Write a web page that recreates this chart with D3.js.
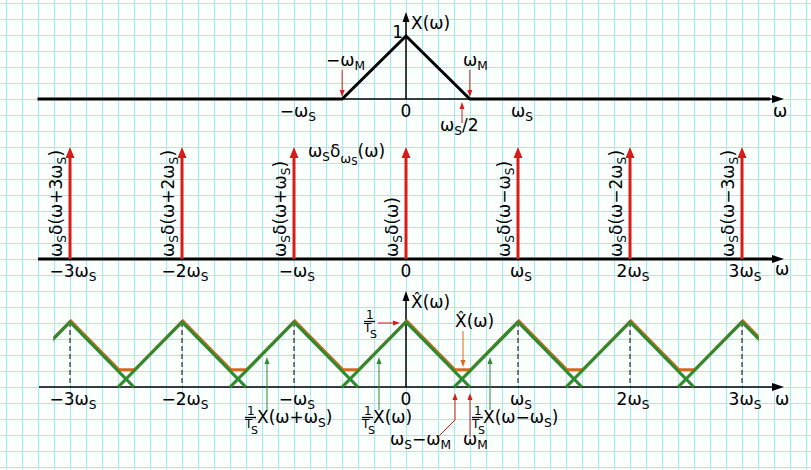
<!DOCTYPE html>
<html>
<head>
<meta charset="utf-8">
<script src="https://cdn.jsdelivr.net/npm/d3@7"></script>
<style>
body { margin: 0; background: #fbfffe; }
svg { display: block; }
text { font-family: "DejaVu Sans", Verdana, sans-serif; fill: #000; }
</style>
</head>
<body>
<div id="chart"></div>
<script>
const WIDTH = 811, HEIGHT = 470;
const GRID_COLOR = "#a3ecee";
const RED = "#d81c1c";
const GREEN = "#2f8a2f";
const ORANGE = "#d86a1c";

// positions are in multiples of omega_s
const SHIFTS = [-3, -2, -1, 0, 1, 2, 3];
const TICK_LABELS = ["−3ω_S", "−2ω_S", "−ω_S", "0", "ω_S", "2ω_S", "3ω_S"];
const TOP_TICKS = [-1, 0, 1];
const TOP_TICK_LABELS = ["−ω_S", "0", "ω_S"];
const IMPULSE_LABELS = ["ω_Sδ(ω+3ω_S)", "ω_Sδ(ω+2ω_S)", "ω_Sδ(ω+ω_S)", "ω_Sδ(ω)",
	"ω_Sδ(ω−ω_S)", "ω_Sδ(ω−2ω_S)", "ω_Sδ(ω−3ω_S)"];

// X(w) : triangle of height 1, edges at +-omega_M
const OMEGA_M = 0.57;
const X_W = [-OMEGA_M, 0, OMEGA_M];
const X_V = [0, 1, 0];
const TOP_SPAN = [-3.29, 3.25];   // drawn extent of X(w) in top panel
const BOT_SPAN = [-3.15, 3.15];   // drawn extent of sampled spectrum
const IMPULSE_H = 1;

const x = d3.scaleLinear().domain([-3, 3]).range([70, 742]);
const yTop = d3.scaleLinear().domain([0, 1]).range([99, 36]);
const yMid = d3.scaleLinear().domain([0, 1]).range([259, 147]);
const yBot = d3.scaleLinear().domain([0, 1]).range([387, 322]);

const svg = d3.select("#chart").append("svg")
	.attr("width", WIDTH)
	.attr("height", HEIGHT);

// grid paper
const grid = svg.append("g").attr("stroke", GRID_COLOR).attr("stroke-width", 1);
d3.range(6.5, WIDTH, 16).forEach(function (gx) {
	grid.append("line").attr("x1", gx).attr("x2", gx).attr("y1", 0).attr("y2", HEIGHT);
});
d3.range(3.5, HEIGHT, 16).forEach(function (gy) {
	grid.append("line").attr("y1", gy).attr("y2", gy).attr("x1", 0).attr("x2", WIDTH);
});

// text with "_X" subscripts
function rich(g, str, px, py, size, anchor) {
	const t = g.append("text").attr("x", px).attr("y", py)
		.attr("font-size", size).attr("text-anchor", anchor || "start");
	const parts = str.split(/(_.)/).filter(function (s) { return s; });
	let sub = false;
	parts.forEach(function (p) {
		if (p[0] === "_") {
			t.append("tspan").attr("font-size", size * 0.72)
				.attr("dy", sub ? 0 : size * 0.24).text(p[1]);
			sub = true;
		} else {
			t.append("tspan").attr("dy", sub ? -size * 0.24 : 0).text(p);
			sub = false;
		}
	});
	return t;
}

function arrow(g, x1, y1, x2, y2, color, w, hl, hw) {
	const dx = x2 - x1, dy = y2 - y1, L = Math.hypot(dx, dy);
	const ux = dx / L, uy = dy / L;
	const bx = x2 - ux * hl, by = y2 - uy * hl;
	g.append("line")
		.attr("x1", x1).attr("y1", y1)
		.attr("x2", bx + ux).attr("y2", by + uy)
		.attr("stroke", color).attr("stroke-width", w);
	g.append("path")
		.attr("d", "M" + x2 + "," + y2 +
			"L" + (bx - uy * hw / 2) + "," + (by + ux * hw / 2) +
			"L" + (bx + uy * hw / 2) + "," + (by - ux * hw / 2) + "Z")
		.attr("fill", color);
}

// 1 over T_S
function frac(g, fx, yb) {
	g.append("text").attr("x", fx + 2).attr("y", yb).attr("font-size", 12).text("1");
	g.append("line").attr("x1", fx).attr("x2", fx + 11)
		.attr("y1", yb + 2.5).attr("y2", yb + 2.5)
		.attr("stroke", "#000").attr("stroke-width", 1.3);
	g.append("text").attr("x", fx).attr("y", yb + 13).attr("font-size", 12).text("T");
	g.append("text").attr("x", fx + 6).attr("y", yb + 19).attr("font-size", 11).text("S");
}

function tri(k) {
	return X_W.map(function (w, i) { return [w + k, X_V[i]]; });
}

// ---------- top panel: X(w) ----------
const topG = svg.append("g");
arrow(topG, 38, yTop(0), 784, yTop(0), "#000", 1.5, 12, 8);
arrow(topG, x(0), yTop(0), x(0), 12, "#000", 1.5, 10, 7);

const topPts = [[TOP_SPAN[0], 0]].concat(tri(0), [[TOP_SPAN[1], 0]]);
topG.append("path")
	.attr("d", d3.line().x(d => x(d[0])).y(d => yTop(d[1]))(topPts))
	.attr("fill", "none").attr("stroke", "#000").attr("stroke-width", 3)
	.attr("stroke-linejoin", "miter");

TOP_TICKS.forEach(function (k, i) {
	rich(topG, TOP_TICK_LABELS[i], x(k) + (k === 0 ? 0 : 4), 117, 17, "middle");
});
rich(topG, "ω", 773, 117, 17);
topG.append("text").attr("x", x(0) - 3).attr("y", 38).attr("font-size", 17)
	.attr("text-anchor", "end").text("1");
rich(topG, "X(ω)", x(0) + 5, 29, 17);
rich(topG, "−ω_M", 326, 66, 17);
rich(topG, "ω_M", 463, 66, 17);
arrow(topG, x(-OMEGA_M), 70, x(-OMEGA_M), 97, RED, 1, 7, 5);
arrow(topG, x(OMEGA_M), 70, x(OMEGA_M), 97, RED, 1, 7, 5);
arrow(topG, x(0.5), 123, x(0.5), 102, RED, 1, 7, 5);
rich(topG, "ω_S/2", 440, 131, 17);

// ---------- middle panel: impulse train ----------
const mid = svg.append("g");
arrow(mid, 38, yMid(0), 784, yMid(0), "#000", 3, 12, 8);
SHIFTS.forEach(function (k, i) {
	arrow(mid, x(k), yMid(0), x(k), yMid(IMPULSE_H), RED, 3, 11, 9);
	rich(mid, IMPULSE_LABELS[i], 0, 0, 17)
		.attr("transform", "translate(" + (x(k) - 8) + ",257) rotate(-90)");
	rich(mid, TICK_LABELS[i], x(k) + (k === 0 ? 0 : 3), 277, 17, "middle");
});
rich(mid, "ω", 775, 275, 17);
// omega_s delta_{omega_s}(omega)
const dl = mid.append("text").attr("x", 308).attr("y", 157).attr("font-size", 17);
dl.append("tspan").text("ω");
dl.append("tspan").attr("font-size", 12).attr("dy", 4).text("S");
dl.append("tspan").attr("dy", -4).text("δ");
dl.append("tspan").attr("font-size", 13).attr("dy", 6).text("ω");
dl.append("tspan").attr("font-size", 10).attr("dy", 2).text("S");
dl.append("tspan").attr("dy", -8).text("(ω)");

// ---------- bottom panel: sampled spectrum ----------
const bot = svg.append("g");
arrow(bot, 39, yBot(0), 784, yBot(0), "#000", 1.5, 12, 8);
arrow(bot, x(0), yBot(0), x(0), 291, "#000", 1.5, 10, 7);

SHIFTS.filter(k => k !== 0).forEach(function (k) {
	bot.append("line")
		.attr("x1", x(k)).attr("x2", x(k))
		.attr("y1", yBot(1)).attr("y2", yBot(0))
		.attr("stroke", "#000").attr("stroke-width", 1)
		.attr("stroke-dasharray", "5,3");
});

svg.append("clipPath").attr("id", "span")
	.append("rect")
	.attr("x", x(BOT_SPAN[0])).attr("y", 0)
	.attr("width", x(BOT_SPAN[1]) - x(BOT_SPAN[0])).attr("height", HEIGHT);

// sum of shifted copies, evaluated at the breakpoints
function sumAt(w) {
	return d3.sum(SHIFTS, function (k) {
		const d = Math.abs(w - k);
		return d < OMEGA_M ? 1 - d / OMEGA_M : 0;
	});
}
const breaks = [BOT_SPAN[0], BOT_SPAN[1]];
SHIFTS.forEach(function (k) {
	X_W.forEach(function (w) {
		const b = k + w;
		if (b > BOT_SPAN[0] && b < BOT_SPAN[1]) breaks.push(b);
	});
});
breaks.sort(d3.ascending);
const sumPts = breaks.map(w => [w, sumAt(w)]);

const line = d3.line().x(d => x(d[0])).y(d => yBot(d[1]));
const spec = bot.append("g").attr("clip-path", "url(#span)");
spec.append("path")
	.attr("d", line(sumPts))
	.attr("transform", "translate(0.8,-1.2)")
	.attr("fill", "none").attr("stroke", ORANGE).attr("stroke-width", 3);
SHIFTS.forEach(function (k) {
	spec.append("path")
		.attr("d", line(tri(k)))
		.attr("fill", "none").attr("stroke", GREEN).attr("stroke-width", 3.2);
});

SHIFTS.forEach(function (k, i) {
	rich(bot, TICK_LABELS[i], x(k) + (k === 0 ? 0 : 3), 405, 17, "middle");
});
rich(bot, "ω", 775, 405, 17);
rich(bot, "X\u0302(ω)", x(0) + 5, 308, 17);

// 1/T_S marker at the peak
frac(bot, 364, 319);
arrow(bot, 378, 323, 400, 323, RED, 1, 7, 5);

// sum label
rich(bot, "X\u0302(ω)", 455, 327, 17);
arrow(bot, 463, 331, 463, 367, ORANGE, 1, 7, 5);

// shifted copies
arrow(bot, 267, 410, 267, 357, GREEN, 1, 7, 5);
frac(bot, 245, 415);
rich(bot, "X(ω+ω_S)", 257, 423, 17);
arrow(bot, 379, 410, 379, 357, GREEN, 1, 7, 5);
frac(bot, 362, 415);
rich(bot, "X(ω)", 373, 423, 17);
arrow(bot, 490, 410, 490, 357, GREEN, 1, 7, 5);
frac(bot, 472, 415);
rich(bot, "X(ω−ω_S)", 483, 423, 17);

// overlap edges
arrow(bot, 455, 420, 455, 393, RED, 1, 7, 5);
bot.append("line").attr("x1", 455).attr("y1", 420).attr("x2", 438).attr("y2", 437)
	.attr("stroke", RED).attr("stroke-width", 1);
arrow(bot, 470, 437, 470, 393, RED, 1, 7, 5);
rich(bot, "ω_S−ω_M", 390, 445, 17);
rich(bot, "ω_M", 463, 445, 17);
</script>
</body>
</html>
